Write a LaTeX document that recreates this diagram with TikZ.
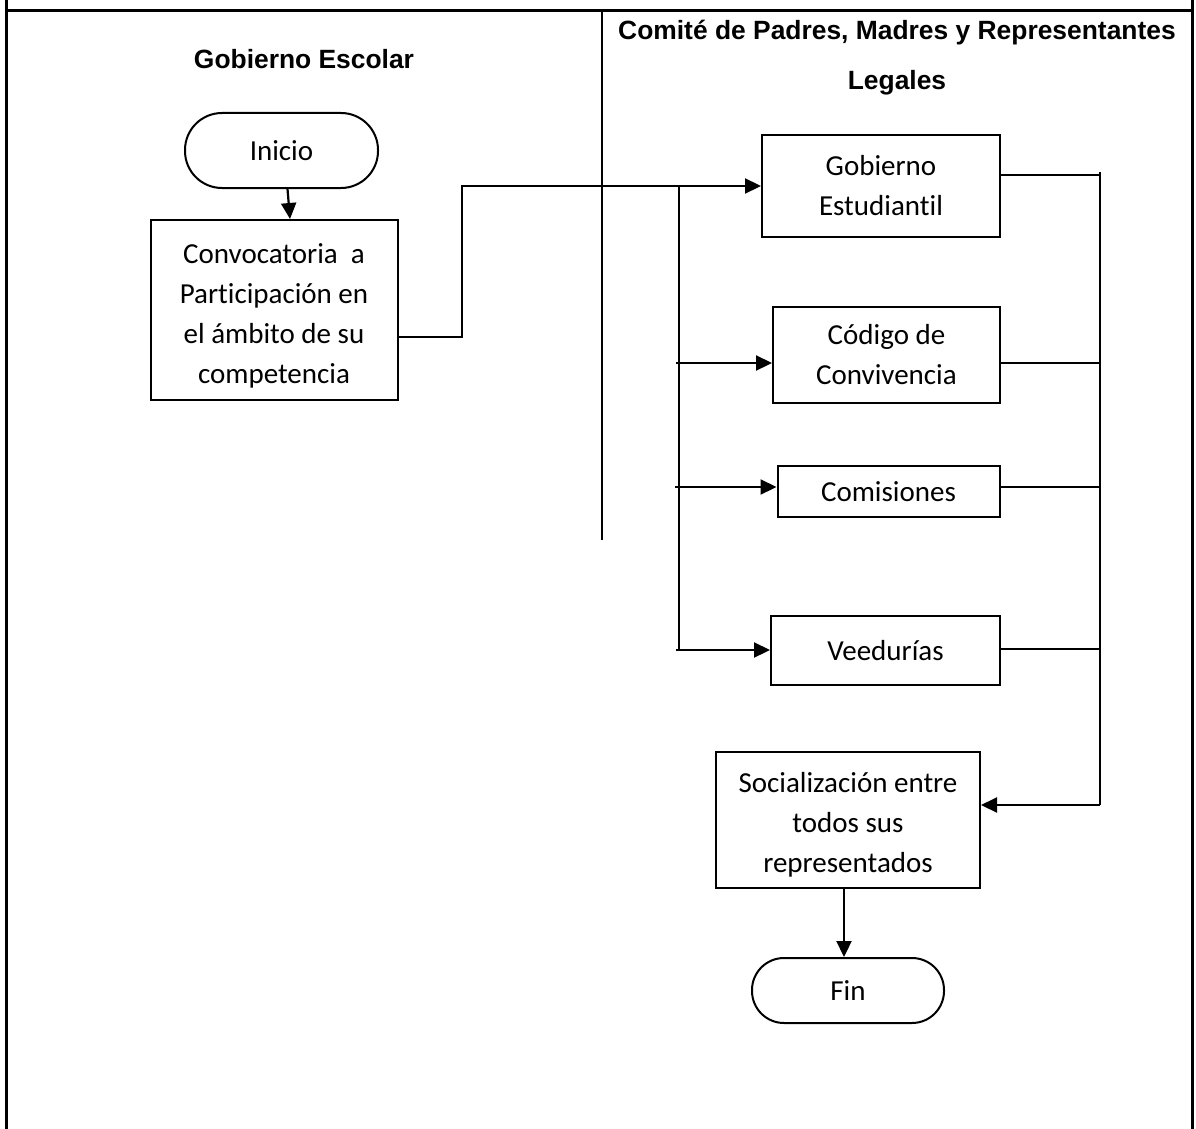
\documentclass[tikz,border=0pt]{standalone}
\usepackage{fontspec}
\setmainfont[Ligatures=NoCommon]{Carlito}
\newfontfamily\headfont{Liberation Sans}
\usetikzlibrary{arrows.meta}
\begin{document}
\begin{tikzpicture}[x=1pt,y=-1pt,
  box/.style={draw,line width=2pt,rectangle,inner sep=0pt,align=center,font=\fontsize{29}{40}\selectfont},
  conn/.style={line width=2.2pt},
  arr/.style={conn,-{Triangle[length=16pt,width=15pt]}},
  head/.style={font=\headfont\bfseries\fontsize{26.4}{50}\selectfont,inner sep=0pt,anchor=base},
  frame/.style={line width=3pt}
]
\useasboundingbox (0,0) rectangle (1196,1129);
% table frame
\coordinate (fl0) at (6,0);
\coordinate (fl1) at (6,1129);
\coordinate (fr0) at (1192,0);
\coordinate (fr1) at (1192,1129);
\coordinate (tl) at (6,11);
\coordinate (tr) at (1192,11);
\coordinate (dv0) at (602,11);
\coordinate (dv1) at (602,540);
\draw[frame] (fl0) -- (fl1);
\draw[frame] (fr0) -- (fr1);
\draw[frame] (tl) -- (tr);
\draw[line width=2.5pt] (dv0) -- (dv1);
% headings
\node[head] (h1) at (304,69) {Gobierno Escolar};
\node[head] (h2) at (897,40) {Comité de Padres, Madres y Representantes};
\node[head] (h3) at (897,90) {Legales};
% nodes
\node[box,minimum width=193pt,minimum height=75pt,rounded corners=37pt] (ini) at (281.5,150.5) {Inicio};
\node[box,minimum width=247pt,minimum height=180pt] (conv) at (274,310) {\rule{0pt}{32pt}Convocatoria~~a\\Participación en\\el ámbito de su\\competencia};
\node[box,minimum width=238pt,minimum height=101pt] (gob) at (881,186) {Gobierno\\Estudiantil};
\node[box,minimum width=227pt,minimum height=96pt] (cod) at (886.5,355) {Código de\\Convivencia};
\node[box,minimum width=222pt,minimum height=51pt] (com) at (888.5,491.5) {Comisiones};
\node[box,minimum width=229pt,minimum height=69pt] (vee) at (885.5,650.5) {Veedurías};
\node[box,minimum width=264pt,minimum height=136pt] (soc) at (848,820) {\rule{0pt}{30pt}Socialización entre\\todos sus\\representados};
\node[box,minimum width=192pt,minimum height=65pt,rounded corners=32pt] (fin) at (848,990.5) {Fin};
% connectors
\draw[arr] ([xshift=6pt]ini.south) -- ([xshift=16pt]conv.north);
\coordinate (k1) at (462,186);
\draw[arr] ([yshift=-27pt]conv.east) -| (k1) -- (gob.west);
% left bus
\coordinate (bt) at (679,186);
\coordinate (bb) at (679,650);
\draw[conn] (bt) -- (bb);
\coordinate (a2) at (676,363);
\coordinate (a3) at (675,487);
\coordinate (a4) at (676,650);
\draw[arr] (a2) -- (a2 -| cod.west);
\draw[arr] (a3) -- (a3 -| com.west);
\draw[arr] (a4) -- (a4 -| vee.west);
% right bus
\coordinate (r0) at (1100,172);
\coordinate (r1) at (1100,175);
\coordinate (r2) at (1100,363);
\coordinate (r3) at (1100,487);
\coordinate (r4) at (1100,649);
\coordinate (r5) at (1100,805);
\draw[conn] (r0) -- (r5);
\draw[conn] (r1 -| gob.east) -- (r1);
\draw[conn] (r2 -| cod.east) -- (r2);
\draw[conn] (r3 -| com.east) -- (r3);
\draw[conn] (r4 -| vee.east) -- (r4);
\draw[arr] (r5) -- (r5 -| soc.east);
\draw[arr] ([xshift=-4pt]soc.south) -- ([xshift=-4pt]fin.north);
\end{tikzpicture}
\end{document}
